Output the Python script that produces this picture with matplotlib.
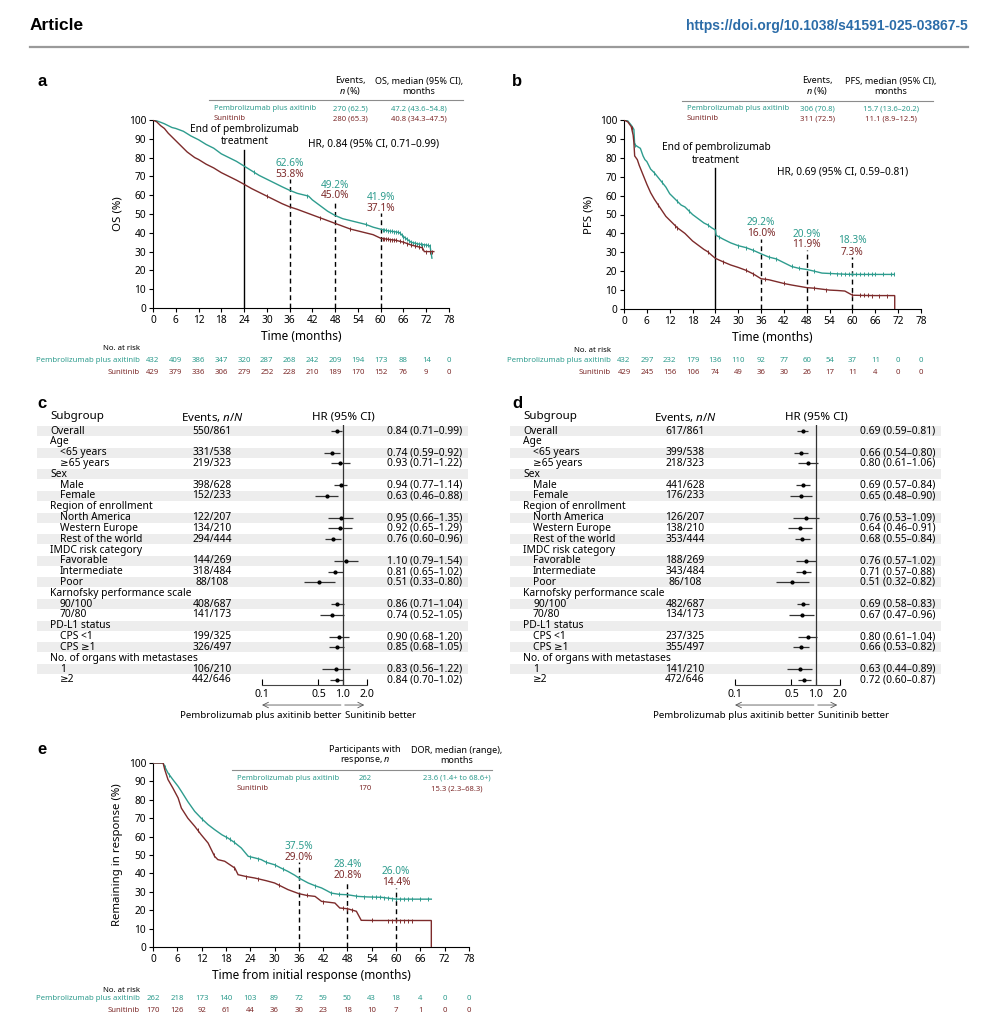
"""
Pembrolizumab plus axitinib vs sunitinib: OS / PFS KM curves, subgroup
forest plots and duration of response. Saves out.png
"""
import numpy as np
import matplotlib
matplotlib.use("Agg")
import matplotlib.pyplot as plt
from matplotlib.patches import Rectangle

plt.rcParams.update({
    "font.family": ["Noto Sans", "DejaVu Sans"],
    "mathtext.fontset": "custom",
    "mathtext.rm": "Noto Sans",
    "mathtext.it": "Noto Sans:italic",
    "axes.linewidth": 0.8,
})

W, H = 984, 1024
TEAL = "#2e9c8e"
MAROON = "#7d2b2b"
BOLD_FONT = ["Liberation Sans", "DejaVu Sans"]
ARMS = ["Pembrolizumab plus axitinib", "Sunitinib"]
MONTH_TICKS = list(range(0, 79, 6))

# ── OS (panel a) ─────────────────────────────────────────────────────────────
os_pa_t = [0, 1, 2, 3, 4, 5, 6, 8, 10, 12, 14, 16, 18, 20, 22, 24, 26, 28, 30, 32, 34, 36,
           38, 40, 41, 42, 44, 46, 48, 50, 52, 54, 56, 58, 60, 62, 64, 65, 66, 67, 68, 69,
           70, 72, 73, 73.5]
os_pa_s = [100, 99.5, 98.8, 98, 97, 96, 95.5, 94, 91.5, 89.5, 87, 85, 82, 80, 78, 75.5, 73,
           70.5, 68.5, 66.5, 64.5, 62.6, 61, 60, 59.5, 57.5, 54.5, 51.5, 49.2, 47.5, 46.5,
           45.5, 44.5, 43, 41.9, 41, 40.5, 40, 38, 36.5, 35, 34.5, 34, 33.5, 33, 26.5]
os_su_t = [0, 1, 2, 3, 4, 5, 6, 7, 8, 9, 10, 11, 12, 14, 16, 18, 20, 22, 24, 26, 28, 30, 32,
           34, 36, 38, 40, 42, 44, 46, 48, 50, 52, 54, 56, 58, 60, 62, 64, 66, 68, 70, 71,
           71.5, 74]
os_su_s = [100, 99, 97, 95.5, 93, 91, 89, 87, 85, 83, 81.5, 80, 79, 76.5, 74.5, 72, 70, 68,
           65.8, 63.5, 61.5, 59.5, 57.5, 55.5, 53.8, 52.5, 51, 49.5, 48, 46.5, 45, 43.5, 42,
           41, 40, 39, 37.1, 36.5, 36, 35, 33.5, 32.5, 32, 30, 30]
os_pa_cens = [26.5, 40.5, 56, 60.5, 61, 61.5, 62, 62.5, 63, 63.5, 64, 64.5, 65, 65.5, 66,
              66.5, 67, 67.5, 68, 68.5, 69, 69.5, 70, 70.5, 71, 71.5, 72, 72.5, 73]
os_su_cens = [30, 44, 52, 60.5, 61, 61.5, 62, 62.5, 63, 63.5, 64, 65, 66, 67, 68, 69, 70,
              71, 72, 73, 73.5]
os_risk_pa = [432, 409, 386, 347, 320, 287, 268, 242, 209, 194, 173, 88, 14, 0]
os_risk_su = [429, 379, 336, 306, 279, 252, 228, 210, 189, 170, 152, 76, 9, 0]

# ── PFS (panel b) ────────────────────────────────────────────────────────────
pfs_pa_t = [0, 1, 2, 2.6, 2.8, 3.5, 4.3, 5, 5.5, 6, 7, 8, 9, 10, 11, 12, 13, 14, 15, 16, 17,
            18, 19, 20, 21, 22, 23, 24, 24.2, 26, 28, 30, 32, 34, 36, 38, 40, 42, 44, 46, 48,
            50, 52, 54, 56, 58, 60, 64, 68, 71]
pfs_pa_s = [100, 99.5, 97, 95, 87, 86, 85, 81, 79, 78, 74, 72, 69.5, 67, 64.5, 61, 59, 57,
            55, 54, 52, 50, 48.5, 47, 45.5, 44.5, 43, 41.8, 39, 37, 35, 33.5, 32.5, 31, 29.2,
            27.5, 26.5, 24.5, 22.5, 21.5, 20.9, 20, 19, 18.8, 18.6, 18.4, 18.3, 18.3, 18.3, 18.3]
pfs_su_t = [0, 1, 1.9, 2.4, 2.6, 2.8, 3.5, 4, 5, 6, 7, 8, 9, 10, 11, 12, 13, 14, 15, 16, 17,
            18, 19, 20, 21, 22, 23, 24, 26, 28, 30, 32, 34, 36, 38, 40, 42, 44, 46, 48, 50,
            52, 54, 56, 58, 60, 62, 66, 71.1, 71.1]
pfs_su_s = [100, 99, 96.5, 92, 88, 81, 79, 76, 71, 66, 61.5, 58, 55, 52, 49, 47, 45, 43,
            41.5, 40, 38, 36, 34.5, 33, 31.5, 30.3, 28.5, 26.8, 25, 23.3, 22, 20.5, 18.5, 16,
            15.5, 14.5, 13.5, 12.7, 12, 11.3, 11, 10.5, 10, 9.8, 9.5, 7.3, 7.2, 7.1, 7.1, 0]
pfs_pa_cens = [3, 8, 10, 14, 17, 22, 25, 30, 32, 34, 38, 40, 44, 46, 50, 54, 56, 57, 58,
               59, 60, 61, 62, 63, 64, 65, 66, 68, 70, 71]
pfs_su_cens = [2, 9, 13.5, 14, 22, 26, 32, 34, 37, 42, 50, 53, 60, 62, 63, 64, 65, 67, 69]
pfs_risk_pa = [432, 297, 232, 179, 136, 110, 92, 77, 60, 54, 37, 11, 0, 0]
pfs_risk_su = [429, 245, 156, 106, 74, 49, 36, 30, 26, 17, 11, 4, 0, 0]

# ── DOR (panel e) ────────────────────────────────────────────────────────────
dor_pa_t = [0, 2.5, 2.9, 3.7, 4.9, 6.2, 7, 8.6, 10.3, 11.9, 13.6, 15.2, 17, 18.5, 20, 21.8,
            23.5, 25, 26.7, 28, 30, 31.5, 33.3, 35, 36, 38.3, 40, 41.6, 43, 44, 46, 48, 50.6,
            53, 56.4, 60, 64, 68.7]
dor_pa_s = [100, 100, 98, 94.6, 91, 87.3, 84.6, 79, 73.7, 70, 66.5, 63.8, 61, 59.2, 57,
            53.8, 49.3, 48.5, 47.5, 46, 44.7, 43, 41.1, 39, 37.5, 34.8, 33.3, 32.1, 30.5,
            29.3, 28.6, 28.4, 27.5, 27.2, 27, 26, 26, 26]
dor_su_t = [0, 2.5, 2.9, 3.7, 4.9, 6.2, 7, 8.6, 10.3, 11.9, 13.6, 15.2, 16, 17.7, 20.2, 21,
            23, 25.1, 28, 30, 33.3, 36, 38, 40, 41.6, 44.9, 46.1, 48, 50.2, 51.4, 55, 60, 64,
            68.7, 68.7]
dor_su_s = [100, 100, 96.4, 91, 86.4, 81, 75.5, 70, 65.6, 61, 56.5, 49.3, 47.5, 46.6, 42.9,
            39.3, 38.3, 37.5, 36, 34.8, 31.2, 29, 28, 27.5, 24.8, 23.9, 21.2, 20.8, 19.4,
            14.5, 14.4, 14.4, 14.4, 14.4, 0]
dor_pa_cens = [3, 4, 12, 18, 19, 20, 24, 26, 28, 30, 32, 36, 40, 44, 46, 50, 52, 54, 55, 56,
               57, 58, 59, 60, 61, 62, 63, 64, 66, 68]
dor_su_cens = [11, 15, 20, 23, 26, 31, 38, 42, 47, 48, 49, 54, 58, 59, 60, 61, 62, 63, 64]
dor_risk_pa = [262, 218, 173, 140, 103, 89, 72, 59, 50, 43, 18, 4, 0, 0]
dor_risk_su = [170, 126, 92, 61, 44, 36, 30, 23, 18, 10, 7, 1, 0, 0]

# milestone labels: (month, pembro %, sunitinib %)
os_marks = [(36, "62.6%", "53.8%"), (48, "49.2%", "45.0%"), (60, "41.9%", "37.1%")]
pfs_marks = [(36, "29.2%", "16.0%"), (48, "20.9%", "11.9%"), (60, "18.3%", "7.3%")]
dor_marks = [(36, "37.5%", "29.0%"), (48, "28.4%", "20.8%"), (60, "26.0%", "14.4%")]

# ── Forest plots (panels c, d) ───────────────────────────────────────────────
subgroups = ["Overall", "Age", "<65 years", "≥65 years", "Sex", "Male", "Female",
             "Region of enrollment", "North America", "Western Europe", "Rest of the world",
             "IMDC risk category", "Favorable", "Intermediate", "Poor",
             "Karnofsky performance scale", "90/100", "70/80", "PD-L1 status", "CPS <1",
             "CPS ≥1", "No. of organs with metastases", "1", "≥2"]
group_headers = ["Age", "Sex", "Region of enrollment", "IMDC risk category",
                 "Karnofsky performance scale", "PD-L1 status", "No. of organs with metastases"]

os_events = ["550/861", "331/538", "219/323", "398/628", "152/233", "122/207", "134/210",
             "294/444", "144/269", "318/484", "88/108", "408/687", "141/173", "199/325",
             "326/497", "106/210", "442/646"]
os_hr = [0.84, 0.74, 0.93, 0.94, 0.63, 0.95, 0.92, 0.76, 1.10, 0.81, 0.51, 0.86, 0.74, 0.90,
         0.85, 0.83, 0.84]
os_lo = [0.71, 0.59, 0.71, 0.77, 0.46, 0.66, 0.65, 0.60, 0.79, 0.65, 0.33, 0.71, 0.52, 0.68,
         0.68, 0.56, 0.70]
os_hi = [0.99, 0.92, 1.22, 1.14, 0.88, 1.35, 1.29, 0.96, 1.54, 1.02, 0.80, 1.04, 1.05, 1.20,
         1.05, 1.22, 1.02]

pfs_events = ["617/861", "399/538", "218/323", "441/628", "176/233", "126/207", "138/210",
              "353/444", "188/269", "343/484", "86/108", "482/687", "134/173", "237/325",
              "355/497", "141/210", "472/646"]
pfs_hr = [0.69, 0.66, 0.80, 0.69, 0.65, 0.76, 0.64, 0.68, 0.76, 0.71, 0.51, 0.69, 0.67,
          0.80, 0.66, 0.63, 0.72]
pfs_lo = [0.59, 0.54, 0.61, 0.57, 0.48, 0.53, 0.46, 0.55, 0.57, 0.57, 0.32, 0.58, 0.47,
          0.61, 0.53, 0.44, 0.60]
pfs_hi = [0.81, 0.80, 1.06, 0.84, 0.90, 1.09, 0.91, 0.84, 1.02, 0.88, 0.82, 0.83, 0.96,
          1.04, 0.82, 0.89, 0.87]


fig = plt.figure(figsize=(W / 100, H / 100), dpi=100)

# pixel canvas behind everything, for text and layout lines
cv = fig.add_axes([0, 0, 1, 1])
cv.set_xlim(0, W)
cv.set_ylim(H, 0)
cv.axis("off")


def px_axes(left, top, right, bottom):
    ax = fig.add_axes([left / W, 1 - bottom / H, (right - left) / W, (bottom - top) / H])
    ax.set_facecolor("none")
    return ax


# ── Page header ──────────────────────────────────────────────────────────────
cv.text(30, 26, "Article", fontsize=12.5, fontweight="bold", family=BOLD_FONT,
        va="center", ha="left")
cv.text(968, 26, "https://doi.org/10.1038/s41591-025-03867-5", fontsize=10,
        fontweight="bold", family=BOLD_FONT, color="#2b6ca8", va="center", ha="right")
cv.plot([30, 968], [47, 47], color="#9a9a9a", lw=1.6)
for lab, x, y in [("a", 37, 81), ("b", 512, 81), ("c", 37, 403), ("d", 512, 403), ("e", 37, 750)]:
    cv.text(x, y, lab, fontsize=12, fontweight="bold", family=BOLD_FONT, va="center", ha="left")


# ── KM helpers ───────────────────────────────────────────────────────────────

def km_panel(box, curves, marks, end_line, hr_text, hr_pos, ylabel, xlabel):
    ax = px_axes(*box)
    for t, s, cens, col in curves:
        ax.plot(t, s, color=col, lw=1.0, solid_joinstyle="miter", zorder=3)
        ax.plot(cens, np.interp(cens, t, s), ls="none", marker="|", ms=3.2,
                mew=0.7, color=col, zorder=3)
    for m, (month, txt_pa, txt_su) in enumerate(marks):
        top, y_pa, y_su = month_label_y[ylabel][m]
        ax.plot([month, month], [0, top], color="black", lw=1.0, dashes=(3.5, 2.5), zorder=2)
        ax.text(month, y_pa, txt_pa, color=TEAL, fontsize=7.3, ha="center", va="center")
        ax.text(month, y_su, txt_su, color=MAROON, fontsize=7.3, ha="center", va="center")
    if end_line is not None:
        top, ytxt = end_line
        ax.plot([24, 24], [0, top], color="black", lw=1.0, zorder=2)
        ax.text(24.2, ytxt, "End of pembrolizumab\ntreatment", fontsize=7.3,
                ha="center", va="center", linespacing=1.15)
    if hr_text:
        ax.text(hr_pos[0], hr_pos[1], hr_text, fontsize=7.3, ha="center", va="center")
    ax.set_xlim(0, 78)
    ax.set_ylim(0, 100)
    ax.set_xticks(MONTH_TICKS)
    ax.set_yticks(range(0, 101, 10))
    ax.tick_params(labelsize=7.3, length=3, width=0.8, pad=2)
    for sp in ("top", "right"):
        ax.spines[sp].set_visible(False)
    ax.set_ylabel(ylabel, fontsize=8.2, labelpad=4)
    ax.set_xlabel(xlabel, fontsize=8.5, labelpad=3)
    return ax


def risk_table(ax, y_head, y_rows, label_x, rows):
    cv.text(label_x, y_head, "No. at risk", fontsize=5.6, ha="right", va="center")
    for (arm, vals, col), y in zip(rows, y_rows):
        cv.text(label_x, y, arm, fontsize=5.6, ha="right", va="center", color=col)
        for m, v in zip(MONTH_TICKS, vals):
            xpix = ax.transData.transform((m, 0))[0]
            cv.text(xpix, y, str(v), fontsize=5.6, ha="center", va="center", color=col)


def summary_table(x_left, x_right, y_title, y_line, y_rows, x_cols, titles, rows):
    for x, ttl in zip(x_cols, titles):
        cv.text(x, y_title, ttl, fontsize=6.5, ha="center", va="center", linespacing=1.1)
    cv.plot([x_left, x_right], [y_line, y_line], color="#8c8c8c", lw=0.8)
    for (arm, c1, c2, col), y in zip(rows, y_rows):
        cv.text(x_left + 5, y, arm, fontsize=5.5, ha="left", va="center", color=col)
        cv.text(x_cols[0], y, c1, fontsize=5.5, ha="center", va="center", color=col)
        cv.text(x_cols[1], y, c2, fontsize=5.5, ha="center", va="center", color=col)


# (dashed top, pembro label y, sunitinib label y) for each milestone
month_label_y = {
    "OS (%)": [(68.5, 77, 71), (57.5, 65.4, 60), (50.5, 58.7, 52.7)],
    "PFS (%)": [(37, 45.9, 40), (31, 39.5, 33.9), (27.5, 36, 30)],
    "Remaining in response (%)": [(46, 54.7, 48.7), (36, 44.7, 39), (32, 41, 34.8)],
}

# ── Panel a ──────────────────────────────────────────────────────────────────
ax_a = km_panel((153, 120, 449, 308),
                [(os_pa_t, os_pa_s, os_pa_cens, TEAL), (os_su_t, os_su_s, os_su_cens, MAROON)],
                os_marks, (84, 91.6), "HR, 0.84 (95% CI, 0.71–0.99)", (58, 87.5),
                "OS (%)", "Time (months)")
summary_table(209, 463, 86.5, 100, [109, 119], [350, 419],
              ["Events,\n$\\mathit{n}$ (%)", "OS, median (95% CI),\nmonths"],
              [(ARMS[0], "270 (62.5)", "47.2 (43.6–54.8)", TEAL),
               (ARMS[1], "280 (65.3)", "40.8 (34.3–47.5)", MAROON)])
risk_table(ax_a, 349, [360, 373], 140,
           [(ARMS[0], os_risk_pa, TEAL), (ARMS[1], os_risk_su, MAROON)])

# ── Panel b ──────────────────────────────────────────────────────────────────
ax_b = km_panel((624, 120, 921, 309),
                [(pfs_pa_t, pfs_pa_s, pfs_pa_cens, TEAL), (pfs_su_t, pfs_su_s, pfs_su_cens, MAROON)],
                pfs_marks, (74.5, 82), "HR, 0.69 (95% CI, 0.59–0.81)", (57.5, 72.7),
                "PFS (%)", "Time (months)")
summary_table(682, 933, 86.5, 101, [109, 119], [817, 891],
              ["Events,\n$\\mathit{n}$ (%)", "PFS, median (95% CI),\nmonths"],
              [(ARMS[0], "306 (70.8)", "15.7 (13.6–20.2)", TEAL),
               (ARMS[1], "311 (72.5)", "11.1 (8.9–12.5)", MAROON)])
risk_table(ax_b, 350, [360, 373], 611,
           [(ARMS[0], pfs_risk_pa, TEAL), (ARMS[1], pfs_risk_su, MAROON)])

# ── Panel e ──────────────────────────────────────────────────────────────────
ax_e = km_panel((153, 763, 469, 947),
                [(dor_pa_t, dor_pa_s, dor_pa_cens, TEAL), (dor_su_t, dor_su_s, dor_su_cens, MAROON)],
                dor_marks, None, None, None,
                "Remaining in response (%)", "Time from initial response (months)")
summary_table(232, 492, 755.5, 770, [778, 789], [365, 457],
              ["Participants with\nresponse, $\\mathit{n}$", "DOR, median (range),\nmonths"],
              [(ARMS[0], "262", "23.6 (1.4+ to 68.6+)", TEAL),
               (ARMS[1], "170", "15.3 (2.3–68.3)", MAROON)])
risk_table(ax_e, 990, [999, 1011], 140,
           [(ARMS[0], dor_risk_pa, TEAL), (ARMS[1], dor_risk_su, MAROON)])


# ── Forest panels ────────────────────────────────────────────────────────────
ROW0, ROWH = 431, 10.82


def forest_panel(dx, events, hr, lo, hi):
    x_lab, x_ev, x_ci = 50 + dx, 212 + dx, 425 + dx
    band_l, band_r = 37 + dx, 468 + dx
    cv.text(x_lab, 417, "Subgroup", fontsize=8.3, ha="left", va="center")
    cv.text(x_ev, 417, "Events, $\\mathit{n/N}$", fontsize=8.3, ha="center", va="center")
    cv.text(343 + dx, 417, "HR (95% CI)", fontsize=8.3, ha="center", va="center")

    data_rows = [i for i, g in enumerate(subgroups) if g not in group_headers]
    for i, g in enumerate(subgroups):
        y = ROW0 + i * ROWH
        if i % 2 == 0:
            cv.add_patch(Rectangle((band_l, y - 5.0), band_r - band_l, 10.0,
                                   color="#ededed", lw=0, zorder=0))
        indent = 0 if (i == 0 or g in group_headers) else 10
        cv.text(x_lab + indent, y, g, fontsize=7.4, ha="left", va="center")
    for k, i in enumerate(data_rows):
        y = ROW0 + i * ROWH
        cv.text(x_ev, y, events[k], fontsize=7.4, ha="center", va="center")
        cv.text(x_ci, y, f"{hr[k]:.2f} ({lo[k]:.2f}–{hi[k]:.2f})", fontsize=7.4,
                ha="center", va="center")

    ax = px_axes(262 + dx, 425, 367 + dx, 685)
    ax.set_xscale("log")
    ax.set_xlim(0.1, 2.0)
    ax.set_ylim((685 - ROW0) / ROWH, (425 - ROW0) / ROWH)
    ax.errorbar(hr, data_rows, xerr=[np.array(hr) - np.array(lo), np.array(hi) - np.array(hr)],
                fmt="o", ms=2.0, color="black", ecolor="#333333", elinewidth=0.9, capsize=0)
    ax.axvline(1.0, color="#333333", lw=0.9)
    for sp in ("top", "right", "left"):
        ax.spines[sp].set_visible(False)
    ax.spines["bottom"].set_color("#444444")
    ax.set_yticks([])
    ax.set_xticks([0.1, 0.5, 1.0, 2.0])
    ax.set_xticklabels(["0.1", "0.5", "1.0", "2.0"])
    ax.minorticks_off()
    ax.tick_params(axis="x", direction="in", length=4, width=0.8, labelsize=7.6, pad=3)

    ax.annotate("", xy=(0.1, -0.077), xytext=(0.95, -0.077),
                xycoords=("data", "axes fraction"), annotation_clip=False,
                arrowprops=dict(arrowstyle="->", lw=0.6, color="#555555", shrinkA=0, shrinkB=0))
    ax.annotate("", xy=(1.85, -0.077), xytext=(1.06, -0.077),
                xycoords=("data", "axes fraction"), annotation_clip=False,
                arrowprops=dict(arrowstyle="->", lw=0.6, color="#555555", shrinkA=0, shrinkB=0))
    ax.text(0.96, -0.119, "Pembrolizumab plus axitinib better", transform=ax.get_xaxis_transform(),
            fontsize=7.0, ha="right", va="center")
    ax.text(1.06, -0.119, "Sunitinib better", transform=ax.get_xaxis_transform(),
            fontsize=7.0, ha="left", va="center")


forest_panel(0, os_events, os_hr, os_lo, os_hi)
forest_panel(473, pfs_events, pfs_hr, pfs_lo, pfs_hi)

fig.savefig("out.png", dpi=100)
